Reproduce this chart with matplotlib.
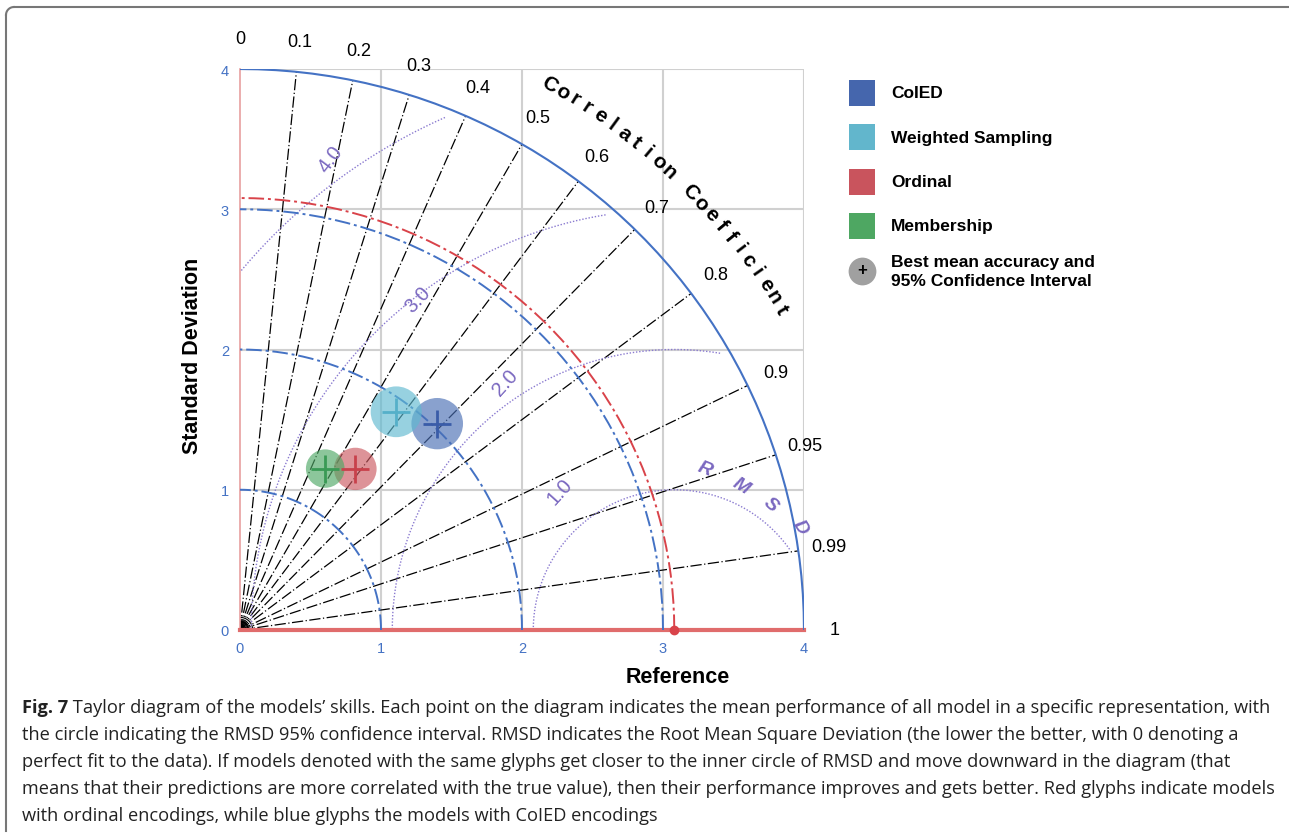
import numpy as np
import matplotlib
matplotlib.use("Agg")
import matplotlib.pyplot as plt
from matplotlib.patches import Circle, Rectangle

plt.rcParams['font.family'] = ['Liberation Sans', 'DejaVu Sans']

# models: std dev, correlation, 95% CI radius
models = ['CoIED', 'Weighted Sampling', 'Ordinal', 'Membership']
model_std = [2.03, 1.91, 1.41, 1.30]
model_corr = [0.689, 0.580, 0.580, 0.465]
model_ci = [0.183, 0.181, 0.151, 0.137]
fill_colors = ['#4a6fb5', '#5fb9d0', '#cc5a61', '#4fa865']
cross_colors = ['#3a5ca8', '#55b0c9', '#c8414b', '#3a9a55']
legend_colors = ['#4566ad', '#62b6cc', '#c9545d', '#4ea762']

ref_std = 3.08
std_circles = [1, 2, 3]
rmsd_levels = [1.0, 2.0, 3.0, 4.0]
corr_ticks = [0, 0.1, 0.2, 0.3, 0.4, 0.5, 0.6, 0.7, 0.8, 0.9, 0.95, 0.99, 1]
corr_tick_labels = ['0', '0.1', '0.2', '0.3', '0.4', '0.5', '0.6', '0.7', '0.8', '0.9', '0.95', '0.99', '1']
std_ticks = [0, 1, 2, 3, 4]

W, H = 1289, 837
fig = plt.figure(figsize=(W / 100, H / 100), dpi=100)
ax = fig.add_axes([240 / W, (H - 631) / H, 564 / W, 561 / H])
ax.set_xlim(0, 4)
ax.set_ylim(0, 4)

blue = '#4472c4'
purple = '#7a68c0'

# grid
for v in std_ticks[1:]:
    ax.plot([v, v], [0, 4], color='#d0d0d0', lw=1.5, zorder=0)
    ax.plot([0, 4], [v, v], color='#d0d0d0', lw=1.5, zorder=0)
for s in ['top', 'right']:
    ax.spines[s].set_visible(False)
ax.spines['left'].set_color('#e8a0a0')
ax.spines['left'].set_linewidth(1.2)
ax.spines['bottom'].set_color('#e06c6c')
ax.spines['bottom'].set_linewidth(3)

ax.set_xticks(std_ticks)
ax.set_yticks(std_ticks)
ax.tick_params(length=0, labelcolor=blue, labelsize=10.5, pad=8)

# correlation lines
for c in corr_ticks[1:-1]:
    th = np.arccos(c)
    ax.plot([0, 4 * np.cos(th)], [0, 4 * np.sin(th)], color='black', lw=0.9,
            ls=(0, (9, 2, 1, 2)), zorder=2)

# small arcs at origin
t = np.linspace(0, np.pi / 2, 50)
for r in [0.03, 0.06, 0.09]:
    ax.plot(r * np.cos(t), r * np.sin(t), color='black', lw=0.8, zorder=2)

# std circles
for r in std_circles:
    ax.plot(r * np.cos(t), r * np.sin(t), color=blue, lw=1.4,
            ls=(0, (8, 2, 1.5, 2)), zorder=3)
ax.plot(ref_std * np.cos(t), ref_std * np.sin(t), color='#d9434a', lw=1.4,
        ls=(0, (8, 2, 1.5, 2)), zorder=3)
ax.plot(4 * np.cos(t), 4 * np.sin(t), color=blue, lw=1.5, zorder=3)

# rmsd arcs
tt = np.linspace(0, np.pi, 800)
for r in rmsd_levels:
    x = ref_std + r * np.cos(tt)
    y = r * np.sin(tt)
    keep = (np.hypot(x, y) <= 3.94) & (x >= 0)
    x = np.where(keep, x, np.nan)
    y = np.where(keep, y, np.nan)
    ax.plot(x, y, color='#8a7ad0', lw=1.0, ls=(0, (1, 1.3)), zorder=2)

rmsd_lab_pos = [(2.27, 0.99, 48), (1.88, 1.77, 48), (1.26, 2.36, 47), (0.64, 3.36, 53)]
for lev, (x, y, rot) in zip(rmsd_levels, rmsd_lab_pos):
    ax.text(x, y, f'{lev:.1f}', color=purple, fontsize=14.5, rotation=rot,
            ha='center', va='center', zorder=4)

for ch, (x, y, rot) in zip('RMSD', [(3.30, 1.15, -22), (3.55, 1.03, -32),
                                     (3.76, 0.90, -42), (3.97, 0.74, -58)]):
    ax.text(x, y, ch, color=purple, fontsize=14, fontweight='bold', style='italic',
            rotation=rot, ha='center', va='center', zorder=4)

# correlation labels
for c, lab in zip(corr_ticks, corr_tick_labels):
    th = np.arccos(c)
    ax.text(4.22 * np.cos(th), 4.22 * np.sin(th), lab, fontsize=13,
            ha='center', va='center', clip_on=False)

title = 'Correlation Coefficient'
angs = np.linspace(60.6, 30.8, len(title))
for ch, a in zip(title, angs):
    ar = np.radians(a)
    ax.text(4.47 * np.cos(ar), 4.47 * np.sin(ar), ch, fontsize=15, fontweight='bold',
            rotation=a - 90, ha='center', va='center', clip_on=False)

# reference point
ax.plot([ref_std], [0], 'o', color='#d9434a', ms=6, clip_on=False, zorder=5)

# models
for s, c, ci, fc, cc in zip(model_std, model_corr, model_ci, fill_colors, cross_colors):
    x, y = s * c, s * np.sqrt(1 - c ** 2)
    ax.add_patch(Circle((x, y), ci, facecolor=fc, edgecolor='none', alpha=0.65, zorder=6))
    ax.plot(x, y, '+', color=cc, ms=20, mew=2, zorder=7)

ax.set_xlabel('Reference', fontsize=15.5, fontweight='bold')
ax.xaxis.set_label_coords(0.777, -0.065)
ax.set_ylabel('Standard Deviation', fontsize=15.5, fontweight='bold')
ax.yaxis.set_label_coords(-0.066, 0.49)

# legend
for i, (name, col) in enumerate(zip(models, legend_colors)):
    yc = 94 + i * 44.3
    fig.patches.append(Rectangle((849 / W, (H - yc - 13) / H), 26 / W, 26 / H,
                                 facecolor=col, edgecolor='none', transform=fig.transFigure))
    fig.text(891 / W, (H - yc) / H, name, fontsize=12.5, fontweight='bold', va='center')
fig.add_artist(plt.Line2D([862 / W], [(H - 272) / H], marker='o', ms=20, color='#a0a0a0',
                          mec='none', ls='none', transform=fig.transFigure))
fig.text(862 / W, (H - 271) / H, '+', fontsize=12, fontweight='bold', ha='center', va='center')
fig.text(891 / W, (H - 272) / H, 'Best mean accuracy and\n95% Confidence Interval',
         fontsize=12.5, fontweight='bold', va='center', linespacing=1.25)

# frame
fig.add_artist(plt.Line2D([6 / W, 6 / W], [(H - 16) / H, (H - 832) / H], color='#777777',
                          lw=1.5, transform=fig.transFigure))
fig.add_artist(plt.Line2D([14 / W, 1289 / W], [(H - 8) / H, (H - 8) / H], color='#777777',
                          lw=1.5, transform=fig.transFigure))
tc = np.linspace(np.pi / 2, np.pi, 20)
fig.add_artist(plt.Line2D((14 + 8 * np.cos(tc)) / W, (H - 16 + 8 * np.sin(tc)) / H,
                          color='#777777', lw=1.5, transform=fig.transFigure))

# caption
caption = [
    'Taylor diagram of the models’ skills. Each point on the diagram indicates the mean performance of all model in a specific representation, with',
    'the circle indicating the RMSD 95% confidence interval. RMSD indicates the Root Mean Square Deviation (the lower the better, with 0 denoting a',
    'perfect fit to the data). If models denoted with the same glyphs get closer to the inner circle of RMSD and move downward in the diagram (that',
    'means that their predictions are more correlated with the true value), then their performance improves and gets better. Red glyphs indicate models',
    'with ordinal encodings, while blue glyphs the models with CoIED encodings',
]
cfont = ['Open Sans', 'DejaVu Sans']
renderer = fig.canvas.get_renderer()
fs = 13
bold = fig.text(22 / W, (H - 713) / H, 'Fig. 7', fontsize=fs, fontweight='bold',
                family=cfont, va='baseline', color='#222222')
bw = bold.get_window_extent(renderer).width
first = fig.text((22 + bw) / W, (H - 713) / H, ' ' + caption[0], fontsize=fs,
                 family=cfont, va='baseline', color='#222222')
tw = bw + first.get_window_extent(renderer).width
fs = fs * 1242 / tw
bold.set_fontsize(fs)
bw = bold.get_window_extent(renderer).width
first.set_fontsize(fs)
first.set_x((22 + bw) / W)
for i, line in enumerate(caption[1:]):
    fig.text(22 / W, (H - 713 - 27 * (i + 1)) / H, line, fontsize=fs, family=cfont,
             va='baseline', color='#222222')

fig.savefig('out.png', dpi=100)
